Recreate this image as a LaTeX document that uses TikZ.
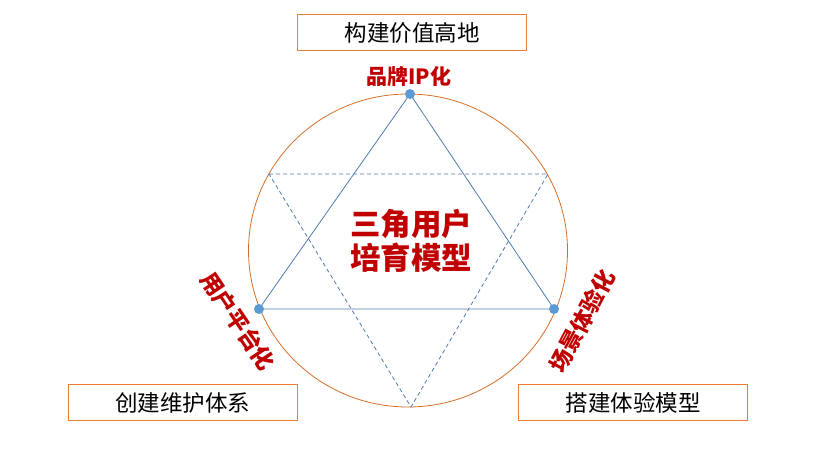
\documentclass[tikz,border=0pt]{standalone}
\usepackage{fontspec}
\setmainfont{Noto Sans CJK SC}
\usepackage{tikz}
\usetikzlibrary{positioning, calc}
\definecolor{ringorange}{RGB}{214, 110, 40}
\definecolor{boxorange}{RGB}{237, 125, 49}
\definecolor{lineblue}{RGB}{79, 123, 176}
\definecolor{dotblue}{RGB}{91, 155, 213}
\definecolor{labelred}{RGB}{192, 0, 0}

\begin{document}
\begin{tikzpicture}[x=1pt, y=-1pt,
      goalbox/.style={draw=boxorange, line width=1pt, minimum width=229pt, minimum height=36pt, inner sep=0pt, font=\fontsize{22.5}{25}\selectfont},
      cornerlabel/.style={text=labelred, font=\fontsize{#1}{24}\selectfont\bfseries, inner sep=0pt},
      solidedge/.style={draw=lineblue, line width=0.8pt},
      dashedge/.style={draw=lineblue, line width=0.8pt, dashed, dash pattern=on 4pt off 3pt},
      vertexdot/.style={fill=dotblue, circle, inner sep=0pt, minimum size=10pt}
    ]
      \useasboundingbox (0,0) rectangle (827,452);

      % outer ring
      \draw[ringorange, line width=0.8pt] (408,250.5) ellipse [x radius=159.5, y radius=156.5];

      % triangle corners
      \coordinate (ptop) at (410,94);
      \coordinate (pleft) at (259,309);
      \coordinate (pright) at (554,309);
      \coordinate (qleft) at (269,174);
      \coordinate (qright) at (548,174);
      \coordinate (qbottom) at (411,407);

      \draw[dashedge] (qleft) -- (qright) -- (qbottom) -- cycle;
      \draw[solidedge] (ptop) -- (pleft) -- (pright) -- cycle;

      \node[vertexdot] (dtop) at (ptop) {};
      \node[vertexdot] (dleft) at (pleft) {};
      \node[vertexdot] (dright) at (pright) {};

      % labels
      \node[cornerlabel=21] (ltop) at (409,76) {品牌IP化};
      \node[cornerlabel=22.5, rotate=-56] (lleft) at (238,321) {用户平台化};
      \node[cornerlabel=22.5, rotate=62] (lright) at (582,321) {场景体验化};

      \node[text=labelred, font=\fontsize{30.5}{34}\selectfont\bfseries, align=center, inner sep=0pt] (center) at (411,241) {三角用户\\培育模型};

      % goal boxes
      \node[goalbox] (gtop) at (412,33) {构建价值高地};
      \node[goalbox] (gleft) at (182.5,402.5) {创建维护体系};
      \node[goalbox] (gright) at (633,402.5) {搭建体验模型};
    \end{tikzpicture}
\end{document}
